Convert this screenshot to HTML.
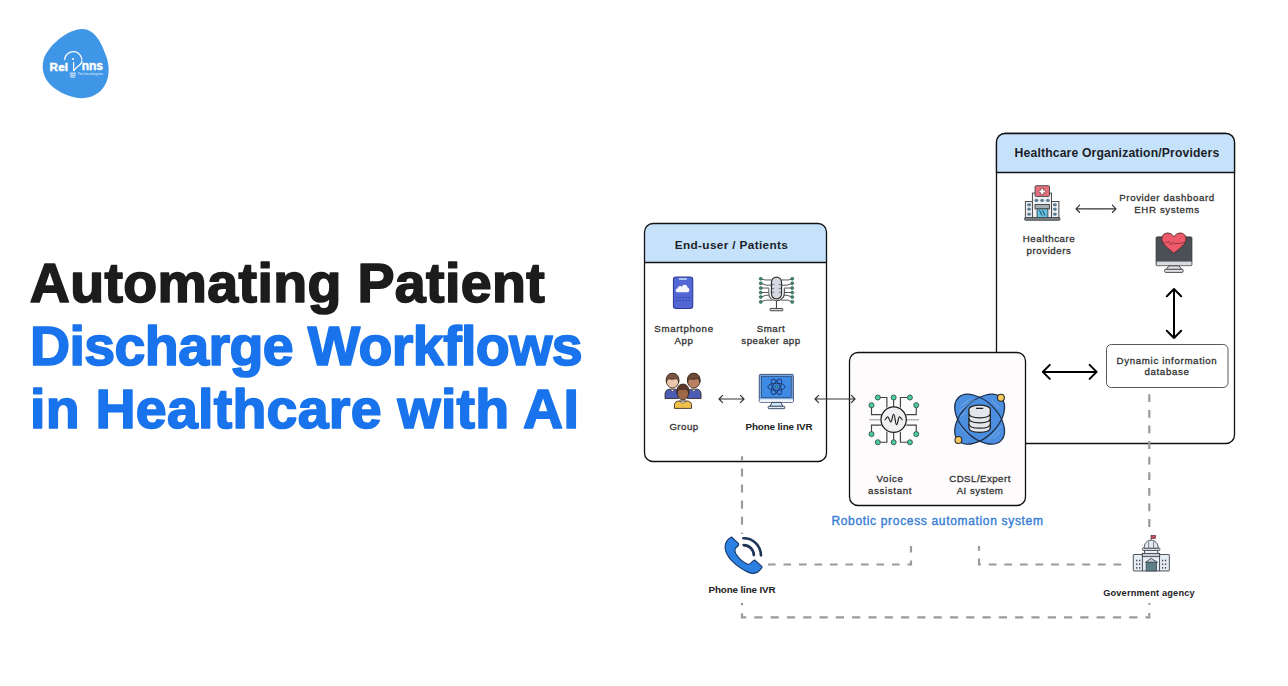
<!DOCTYPE html>
<html><head><meta charset="utf-8">
<style>
html,body{margin:0;padding:0;background:#fff;width:1288px;height:686px;overflow:hidden}
svg{display:block}
text{font-family:"Liberation Sans",sans-serif}
.t{font-size:55.5px;font-weight:700;stroke-width:1.7px;stroke-linejoin:round}
.lab{font-size:9.7px;fill:#333;stroke:#333;stroke-width:0.3px;text-anchor:middle}
.hdr{font-size:12px;font-weight:700;fill:#1b1f29;text-anchor:middle}
</style></head>
<body>
<svg width="1288" height="686" viewBox="0 0 1288 686">
<!-- title -->
<text class="t" x="29.8" y="302" fill="#1c1c1c" stroke="#1c1c1c" style="letter-spacing:0.36px">Automating Patient</text>
<text class="t" x="30" y="365" fill="#1873ec" stroke="#1873ec" style="letter-spacing:-0.6px">Discharge Workflows</text>
<text class="t" x="30" y="427.5" fill="#1873ec" stroke="#1873ec" style="letter-spacing:0.25px">in Healthcare with AI</text>

<!-- End-user box -->
<path d="M644.5 262.5 V232 a8.5 8.5 0 0 1 8.5 -8.5 H818 a8.5 8.5 0 0 1 8.5 8.5 V262.5 Z" fill="#c6e2fb"/>
<rect x="644.5" y="223.5" width="182" height="238" rx="8.5" fill="none" stroke="#111" stroke-width="1.3"/>
<line x1="644.5" y1="262.5" x2="826.5" y2="262.5" stroke="#111" stroke-width="1.3"/>
<text class="hdr" x="731.5" y="249" style="font-size:11.8px;letter-spacing:0.35px">End-user / Patients</text>

<!-- Healthcare box -->
<rect x="996.5" y="133.5" width="238" height="310" rx="8.5" fill="#fff" stroke="#111" stroke-width="1.3"/>
<path d="M996.5 172.5 V142 a8.5 8.5 0 0 1 8.5 -8.5 H1226 a8.5 8.5 0 0 1 8.5 8.5 V172.5 Z" fill="#c6e2fb" stroke="#111" stroke-width="1.3"/>
<text class="hdr" x="1117" y="157.2" style="font-size:12.2px;letter-spacing:0.15px">Healthcare Organization/Providers</text>

<!-- RPA box -->
<rect x="849.5" y="352.5" width="176" height="153" rx="8.5" fill="#fdfbfc" stroke="#111" stroke-width="1.3"/>

<!-- DB box -->
<rect x="1106.5" y="344.5" width="121.5" height="43" rx="4.8" fill="#fff" stroke="#5a5a5a" stroke-width="1"/>

<!-- dashed connectors -->
<g fill="none" stroke="#9a9a9a" stroke-width="2.2" stroke-dasharray="7.8 7.8">
<path d="M742 456.3 V534" stroke-dasharray="8.1 8" stroke-dashoffset="4"/>
<path d="M768 564.5 H911 V546" stroke-dasharray="7.6 7.9"/>
<path d="M979 546 V564.5 H1122" stroke-dashoffset="3"/>
<path d="M1149.3 394.3 V528"/>
<path d="M742 603 V617.3 H1149.3 V603" stroke-dasharray="8.2 8.1" stroke-dashoffset="6"/>
</g>

<!-- labels -->
<g class="lab">
<text x="684" y="332" style="letter-spacing:0.66px">Smartphone</text>
<text x="684" y="343.8" style="letter-spacing:0.66px">App</text>
<text x="771" y="332" style="letter-spacing:0.56px">Smart</text>
<text x="771" y="343.8" style="letter-spacing:0.56px">speaker app</text>
<text x="684" y="430" style="letter-spacing:0.46px">Group</text>
<text x="779" y="430" style="font-weight:700;fill:#222;stroke:none;font-size:9.8px;letter-spacing:-0.12px">Phone line IVR</text>
<text x="890" y="482" style="letter-spacing:0.66px">Voice</text>
<text x="890" y="493.5" style="letter-spacing:0.66px">assistant</text>
<text x="980" y="482" style="letter-spacing:0.46px">CDSL/Expert</text>
<text x="980" y="493.5" style="letter-spacing:0.46px">AI system</text>
<text x="1167" y="201" style="letter-spacing:0.61px">Provider dashboard</text>
<text x="1167" y="212.7" style="letter-spacing:0.61px">EHR systems</text>
<text x="1049" y="242" style="letter-spacing:0.56px">Healthcare</text>
<text x="1049" y="253.6" style="letter-spacing:0.56px">providers</text>
<text x="1167" y="363.9" style="letter-spacing:0.66px">Dynamic information</text>
<text x="1167" y="375.4" style="letter-spacing:0.66px">database</text>
<text x="742" y="592.8" style="font-weight:700;fill:#222;stroke:none;font-size:9.8px;letter-spacing:-0.12px">Phone line IVR</text>
<text x="1149" y="595.7" style="font-weight:700;fill:#222;stroke:none;font-size:9.2px;letter-spacing:0.2px">Government agency</text>
</g>
<text x="937.5" y="524.5" style="font-size:12px;fill:#3a7fd5;stroke:#3a7fd5;stroke-width:0.4px;text-anchor:middle;letter-spacing:0.67px">Robotic process automation system</text>

<!-- arrows -->
<g fill="none" stroke="#333" stroke-width="1.15" stroke-linecap="round" stroke-linejoin="round">
<path d="M719 399 H744 M722.6 395.3 L719 399 L722.6 402.7 M740.4 395.3 L744 399 L740.4 402.7"/>
<path d="M815 399 H855 M818.6 395.3 L815 399 L818.6 402.7 M851.4 395.3 L855 399 L851.4 402.7"/>
<path d="M1076 208.8 H1116 M1079.6 205.1 L1076 208.8 L1079.6 212.5 M1112.4 205.1 L1116 208.8 L1112.4 212.5"/>
</g>
<g fill="none" stroke="#000" stroke-width="2" stroke-linecap="round" stroke-linejoin="round">
<path d="M1042.8 371.9 H1096.6 M1049.8 364.9 L1042.8 371.9 L1049.8 378.9 M1089.6 364.9 L1096.6 371.9 L1089.6 378.9"/>
<path d="M1174 289 V338 M1166.8 296.2 L1174 289 L1181.2 296.2 M1166.8 330.8 L1174 338 L1181.2 330.8"/>
</g>
<!-- LOGO -->
<g transform="translate(38,24) scale(0.11655)">
<path d="M380,42 C480,42 545,150 590,290 C628,410 605,560 470,618 C375,658 255,628 160,565 C60,500 22,405 48,305 C85,185 255,42 380,42 Z" fill="#3f95e6"/>
</g>
<g fill="#fff" font-family="Liberation Sans" font-weight="700">
<text x="49.6" y="70.5" font-size="11.6" letter-spacing="0.2" stroke="#fff" stroke-width="0.5">Rel</text>
<text x="81.8" y="69.5" font-size="12" letter-spacing="-0.1" stroke="#fff" stroke-width="0.4">nns</text>
<text x="77.5" y="75.3" font-size="4" font-weight="400" fill="#dfeefc" textLength="25.5" lengthAdjust="spacingAndGlyphs">Technologies</text>
</g>
<g fill="none" stroke="#fff" stroke-width="1.25" stroke-linecap="round">
<path d="M64.6,59.5 A8.7,8.7 0 1 1 81.8,62 C80.5,66 75.5,67 74.2,70.5"/>
<path d="M73.6,62.5 V70.5"/>
</g>
<g fill="none" stroke="#fff" stroke-width="0.95">
<path d="M69.8,73.2 H75.8 M69.8,75.1 H75.8 M70.4,77 H75.2"/>
</g>
<circle cx="73" cy="59" r="1" fill="#fff"/>
<!-- SMARTPHONE -->
<g transform="translate(665,272) scale(0.06124)">
<rect x="138" y="82" width="315" height="515" rx="40" fill="#5266d4" stroke="#2f3c98" stroke-width="18"/>
<rect x="225" y="96" width="135" height="36" rx="12" fill="#a8c4f0"/>
<path d="M198,332 C165,328 168,272 205,270 C208,232 252,215 275,240 C298,192 368,200 368,255 C408,258 405,332 372,332 Z" fill="#f4f6fc"/>
<g fill="#2a3590">
<circle cx="195" cy="415" r="10"/><circle cx="245" cy="415" r="10"/><circle cx="295" cy="415" r="10"/><circle cx="345" cy="415" r="10"/><circle cx="395" cy="415" r="10"/>
<circle cx="195" cy="465" r="10"/><circle cx="245" cy="465" r="10"/><circle cx="295" cy="465" r="10"/><circle cx="345" cy="465" r="10"/><circle cx="395" cy="465" r="10"/>
</g>
</g>

<!-- MIC -->
<g transform="translate(754,272) scale(0.06124)">
<g fill="none" stroke="#3c3c3c" stroke-width="14">
<path d="M110,110 L180,130 H285 M110,185 L200,215 H285 M110,262 H240 M110,335 H240 M110,408 L200,380 H250 M110,488 L190,460 H300"/>
<path d="M625,110 L560,130 H450 M625,185 L540,215 H450 M625,262 H495 M625,335 H495 M625,408 L540,380 H485 M625,488 L550,460 H440"/>
</g>
<g fill="#3a8a68" stroke="#20463a" stroke-width="8">
<circle cx="110" cy="110" r="25"/><circle cx="110" cy="185" r="25"/><circle cx="110" cy="262" r="25"/><circle cx="110" cy="335" r="25"/><circle cx="110" cy="408" r="25"/><circle cx="110" cy="488" r="25"/>
<circle cx="625" cy="110" r="25"/><circle cx="625" cy="185" r="25"/><circle cx="625" cy="262" r="25"/><circle cx="625" cy="335" r="25"/><circle cx="625" cy="408" r="25"/><circle cx="625" cy="488" r="25"/>
</g>
<path d="M240,265 V350 C240,420 300,470 367,470 C435,470 495,420 495,350 V265" fill="none" stroke="#444" stroke-width="18"/>
<path d="M240,265 V350 C240,420 300,470 367,470" fill="none" stroke="#bbb" stroke-width="8"/>
<rect x="285" y="85" width="165" height="355" rx="82" fill="#d6d9e4" stroke="#333" stroke-width="20"/>
<path d="M295,205 H330 M405,205 H440 M295,268 H330 M405,268 H440 M295,332 H330 M405,332 H440" stroke="#555" stroke-width="12"/>
<path d="M367,470 V598" stroke="#444" stroke-width="18"/>
<rect x="262" y="595" width="208" height="38" rx="10" fill="#ddd" stroke="#444" stroke-width="16"/>
</g>

<!-- GROUP -->
<g transform="translate(660,368) scale(0.06707)">
<g stroke="#3a2a22" stroke-width="13">
<path d="M75,455 V385 C75,338 110,315 150,315 H215 C250,315 275,338 275,372 V455 Z" fill="#4a5cb4"/>
<path d="M410,455 V372 C410,338 440,315 475,315 H540 C580,315 612,338 612,385 V455 Z" fill="#4a5cb4"/>
<ellipse cx="187" cy="190" rx="93" ry="108" fill="#ecc6aa"/>
<path d="M95,215 C85,120 125,78 187,78 C250,78 290,120 280,215 C272,175 255,160 235,158 C200,170 160,170 130,160 C110,170 100,190 95,215 Z" fill="#7a5440"/>
<ellipse cx="503" cy="190" rx="93" ry="108" fill="#b98062"/>
<path d="M411,215 C401,120 441,78 503,78 C566,78 606,120 596,215 C588,175 571,160 551,158 C516,170 476,170 446,160 C426,170 416,190 411,215 Z" fill="#6e4a36"/>
<path d="M215,602 V550 C215,515 245,492 285,492 H400 C440,492 470,515 470,550 V602 Z" fill="#f0c24a"/>
<ellipse cx="342" cy="362" rx="88" ry="112" fill="#9d6748"/>
<path d="M254,380 C244,290 280,240 342,240 C404,240 440,290 430,380 C420,335 400,315 380,312 C350,325 320,325 300,312 C275,320 260,345 254,380 Z" fill="#5b3a2a"/>
</g>
<path d="M150,322 L185,352 L222,322 Z M468,322 L503,352 L540,322 Z M292,496 L342,528 L392,496 Z" fill="#fff" stroke="#3a2a22" stroke-width="8"/>
</g>

<!-- MONITOR (atom) -->
<g transform="translate(754,370) scale(0.06414)">
<rect x="82" y="68" width="532" height="435" rx="18" fill="#7aa8e0" stroke="#34496e" stroke-width="14"/>
<rect x="115" y="98" width="465" height="330" fill="#3e8be6" stroke="#2a3a5a" stroke-width="10"/>
<rect x="88" y="455" width="520" height="44" fill="#eef4fa"/>
<path d="M282,505 L420,505 L450,568 H250 Z" fill="#cfe6f5" stroke="#2a3a5a" stroke-width="14"/>
<rect x="220" y="565" width="260" height="38" rx="12" fill="#e5eef6" stroke="#2a3a5a" stroke-width="14"/>
<g fill="none" stroke="#1f3670" stroke-width="15">
<ellipse cx="350" cy="262" rx="135" ry="55"/>
<ellipse cx="350" cy="262" rx="135" ry="55" transform="rotate(60 350 262)"/>
<ellipse cx="350" cy="262" rx="135" ry="55" transform="rotate(-60 350 262)"/>
</g>
<circle cx="350" cy="262" r="22" fill="#2fb37a" stroke="#1f3a7a" stroke-width="10"/>
</g>

<!-- CHIP -->
<g transform="translate(862,388) scale(0.09042)">
<g fill="none" stroke="#444" stroke-width="13">
<path d="M175,105 H275 V215 M350,105 V210 M530,105 H425 V215"/>
<path d="M105,190 V295 H215 M600,190 V295 H490"/>
<path d="M105,510 V410 H215 M600,510 V410 H490"/>
<path d="M175,600 H275 V485 M350,600 V490 M530,600 H425 V485"/>
</g>
<path d="M80,352 H210 M490,352 H630" stroke="#b5b5b5" stroke-width="16"/>
<circle cx="350" cy="350" r="140" fill="#f0f0f2" stroke="#222" stroke-width="14"/>
<path d="M250,352 C265,352 268,320 285,320 C300,320 303,375 318,375 C333,375 335,290 350,290 C365,290 368,405 382,405 C397,405 400,320 415,320 C430,320 433,352 450,352" fill="none" stroke="#222" stroke-width="13"/>
<g fill="#4ccaa0" stroke="#2a4a40" stroke-width="9">
<circle cx="175" cy="105" r="28"/><circle cx="350" cy="105" r="28"/><circle cx="530" cy="105" r="28"/>
<circle cx="105" cy="190" r="28"/><circle cx="600" cy="190" r="28"/>
<circle cx="105" cy="510" r="28"/><circle cx="600" cy="510" r="28"/>
<circle cx="175" cy="600" r="28"/><circle cx="350" cy="600" r="28"/><circle cx="530" cy="600" r="28"/>
</g>
</g>

<!-- GLOBE/DB -->
<g transform="translate(948,388) scale(0.09042)">
<g fill="#4c8fe0">
<ellipse cx="350" cy="345" rx="335" ry="200" transform="rotate(45 350 345)"/>
<ellipse cx="350" cy="345" rx="335" ry="200" transform="rotate(-45 350 345)"/>
</g>
<g fill="none" stroke="#1f2f4a" stroke-width="14">
<ellipse cx="350" cy="345" rx="335" ry="200" transform="rotate(45 350 345)"/>
<ellipse cx="350" cy="345" rx="335" ry="200" transform="rotate(-45 350 345)"/>
</g>
<g fill="none" stroke="#a9cdf5" stroke-width="8" opacity="0.6">
<path d="M140,200 L250,120 M120,260 L300,130 M130,320 L200,270 M500,560 L580,480 M440,580 L590,420 M130,420 L220,520 M480,130 L560,220"/>
</g>
<g fill="#e3e6eb" stroke="#222" stroke-width="14">
<path d="M232,405 V440 C232,475 285,490 350,490 C415,490 468,475 468,440 V405 Z"/>
<path d="M232,340 V395 C232,430 285,445 350,445 C415,445 468,430 468,395 V340 Z"/>
<path d="M232,280 V335 C232,370 285,385 350,385 C415,385 468,370 468,335 V280 Z"/>
<ellipse cx="350" cy="235" rx="118" ry="45"/>
<path d="M232,235 V280 C232,315 285,330 350,330 C415,330 468,315 468,280 V235"/>
</g>
<path d="M310,225 H390" stroke="#222" stroke-width="14"/>
<g fill="#f7c95c" stroke="#2a2a2a" stroke-width="12">
<circle cx="585" cy="108" r="38"/><circle cx="115" cy="575" r="38"/>
</g>
</g>

<!-- HOSPITAL -->
<g transform="translate(1020,180) scale(0.06707)">
<g stroke="#444" stroke-width="14">
<rect x="80" y="320" width="108" height="250" fill="#e9eef3"/>
<rect x="470" y="320" width="110" height="250" fill="#e9eef3"/>
<rect x="185" y="195" width="285" height="375" fill="#eef0f3"/>
<rect x="225" y="85" width="215" height="160" rx="16" fill="#e8707c"/>
<rect x="225" y="365" width="215" height="65" fill="#a7adb5"/>
<rect x="255" y="430" width="160" height="140" fill="#62c6e2"/>
<rect x="70" y="560" width="525" height="40" rx="10" fill="#7d838a"/>
</g>
<path d="M312,125 H350 V152 H377 V190 H350 V217 H312 V190 H285 V152 H312 Z" fill="#fff" stroke="#5a2a30" stroke-width="8" stroke-linejoin="round"/>
<path d="M290,450 L330,530 M335,450 L375,530" stroke="#1f3a5a" stroke-width="14"/>
<g fill="#5a8fb5" stroke="#2a3a4a" stroke-width="8">
<rect x="222" y="290" width="46" height="30" rx="14"/><rect x="307" y="290" width="46" height="30" rx="14"/><rect x="392" y="290" width="46" height="30" rx="14"/>
<rect x="113" y="355" width="44" height="30" rx="14"/><rect x="113" y="420" width="44" height="30" rx="14"/><rect x="113" y="495" width="44" height="30" rx="14"/>
<rect x="498" y="355" width="44" height="30" rx="14"/><rect x="498" y="420" width="44" height="30" rx="14"/><rect x="498" y="495" width="44" height="30" rx="14"/>
</g>
</g>

<!-- HEART MONITOR -->
<g transform="translate(1150,228) scale(0.06998)">
<rect x="88" y="128" width="510" height="410" rx="14" fill="#4b4f56" stroke="#333" stroke-width="14"/>
<rect x="95" y="480" width="498" height="55" fill="#d9dbde"/>
<path d="M270,540 H415 L455,595 H230 Z" fill="#d9dbde" stroke="#444" stroke-width="14"/>
<rect x="210" y="590" width="262" height="44" rx="12" fill="#e2e4e7" stroke="#444" stroke-width="14"/>
<path d="M342,360 C300,325 190,250 172,180 C158,115 200,70 255,72 C300,74 330,105 342,125 C355,105 385,74 430,72 C485,70 525,115 512,180 C495,250 385,325 342,360 Z" fill="#ee5a6a" stroke="#5a2a30" stroke-width="14"/>
<path d="M180,215 C220,215 245,200 270,190 L300,240 L330,205 L350,225 C390,215 440,230 505,200" fill="none" stroke="#6a2a30" stroke-width="10"/>
</g>

<!-- PHONE HANDSET -->
<g transform="translate(720,530) scale(0.06998)">
<path d="M165,100 L265,195 Q272,212 258,225 L220,262 Q203,290 225,335 Q280,430 380,482 Q412,497 432,480 L482,435 Q497,424 512,440 L597,520 Q607,537 590,552 L545,597 Q490,640 400,602 Q270,542 170,442 Q78,340 73,252 Q70,180 120,130 Z" fill="#2b80e2" stroke="#1a3a6a" stroke-width="16" stroke-linejoin="round"/>
<path d="M335,118 A245,245 0 0 1 585,362" fill="none" stroke="#1e3556" stroke-width="38" stroke-linecap="round"/>
<path d="M338,215 A145,145 0 0 1 483,358" fill="none" stroke="#1e3556" stroke-width="38" stroke-linecap="round"/>
</g>

<!-- GOVERNMENT -->
<g transform="translate(1127,530) scale(0.06998)">
<path d="M345,150 V75" stroke="#444" stroke-width="10"/>
<rect x="345" y="75" width="65" height="48" fill="#c45260" stroke="#5a2a30" stroke-width="8"/>
<g stroke="#4a5058" stroke-width="14">
<rect x="90" y="350" width="135" height="235" rx="6" fill="#e6edf5"/>
<rect x="465" y="350" width="140" height="235" rx="6" fill="#e6edf5"/>
<rect x="220" y="335" width="245" height="250" fill="#e6edf5"/>
<rect x="220" y="335" width="245" height="45" fill="#c4cdd8"/>
<rect x="250" y="290" width="190" height="45" fill="#eef2f7"/>
<rect x="220" y="258" width="250" height="34" rx="12" fill="#dfe6ee"/>
<path d="M245,260 C245,190 290,145 345,145 C400,145 445,190 445,260 Z" fill="#e3eaf2"/>
<path d="M265,462 L345,405 L435,462 Z" fill="#c4cdd8"/>
<rect x="275" y="462" width="145" height="123" fill="#5d8088"/>
</g>
<path d="M310,165 V255 M380,165 V255" stroke="#4a5058" stroke-width="10"/>
<g fill="#3a4050">
<rect x="130" y="425" width="18" height="22"/><rect x="172" y="425" width="18" height="22"/>
<rect x="130" y="478" width="18" height="22"/><rect x="172" y="478" width="18" height="22"/>
<rect x="130" y="530" width="18" height="22"/><rect x="172" y="530" width="18" height="22"/>
<rect x="500" y="425" width="18" height="22"/><rect x="542" y="425" width="18" height="22"/>
<rect x="500" y="478" width="18" height="22"/><rect x="542" y="478" width="18" height="22"/>
<rect x="500" y="530" width="18" height="22"/><rect x="542" y="530" width="18" height="22"/>
</g>
</g>
</svg>
</body></html>
